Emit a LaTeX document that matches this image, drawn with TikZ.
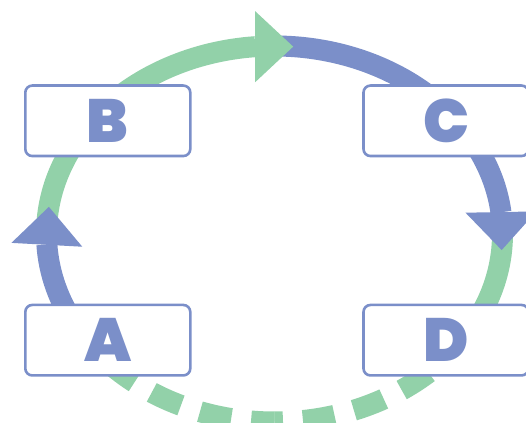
\documentclass[tikz,border=0pt]{standalone}
\usepackage{fontspec}
\usetikzlibrary{arrows.meta,bending}
\IfFontExistsTF{Poppins Black}{\newfontfamily\labfont{Poppins Black}}{%
  \IfFontExistsTF{Poppins ExtraBold}{\newfontfamily\labfont{Poppins ExtraBold}[FakeBold=1]}{%
    \newfontfamily\labfont{Poppins}[UprightFont=* Bold, UprightFeatures={FakeBold=2}]}}
\definecolor{cgreen}{HTML}{92D1A9}
\definecolor{cblue}{HTML}{7B8FC9}
\begin{document}
\begin{tikzpicture}[x=1pt,y=1pt,
  seg/.style={line width=21pt},
  tipped/.style={-{Triangle[length=38pt,width=71pt,line width=0pt]}},
  dashseg/.style={line width=21pt, dash pattern=on 32pt off 20pt},
  box/.style={draw=cblue, line width=2.6pt, fill=white, rounded corners=7pt,
    minimum width=165pt, minimum height=70.5pt, inner sep=0pt, text=cblue,
    font=\labfont\fontsize{61}{61}\selectfont}]
\useasboundingbox (0,0) rectangle (526,422);
\coordinate (O) at (274.5,188);
% green: right arrow -> D
\draw[seg, cgreen] (O) ++(2:228pt and 188pt)
  arc[start angle=2, end angle=-25, x radius=228pt, y radius=188pt];
% dashed bottom D -> A
\draw[dashseg, cgreen, dash phase=23.5pt] (O) ++(270:228pt and 188pt)
  arc[start angle=270, end angle=335, x radius=228pt, y radius=188pt];
\draw[dashseg, cgreen, dash phase=8.5pt] (O) ++(270:228pt and 188pt)
  arc[start angle=270, end angle=205, x radius=228pt, y radius=188pt];
% blue: top -> C -> right arrow
\draw[seg, cblue, tipped] (O) ++(92:228pt and 188pt)
  arc[start angle=92, end angle=-4.9, x radius=228pt, y radius=188pt];
% green: left arrow -> B -> top arrow
\draw[seg, cgreen, tipped] (O) ++(178:228pt and 188pt)
  arc[start angle=178, end angle=85.3, x radius=228pt, y radius=188pt];
% blue: A -> left arrow
\draw[seg, cblue, tipped] (O) ++(210:228pt and 188pt)
  arc[start angle=210, end angle=171.7, x radius=228pt, y radius=188pt];
% boxes
\node[box] (A) at (107.8,81.8) {A};
\node[box] (B) at (107.8,301.2) {B};
\node[box] (C) at (446,301.2) {C};
\node[box] (D) at (446,81.8) {D};
\end{tikzpicture}
\end{document}
